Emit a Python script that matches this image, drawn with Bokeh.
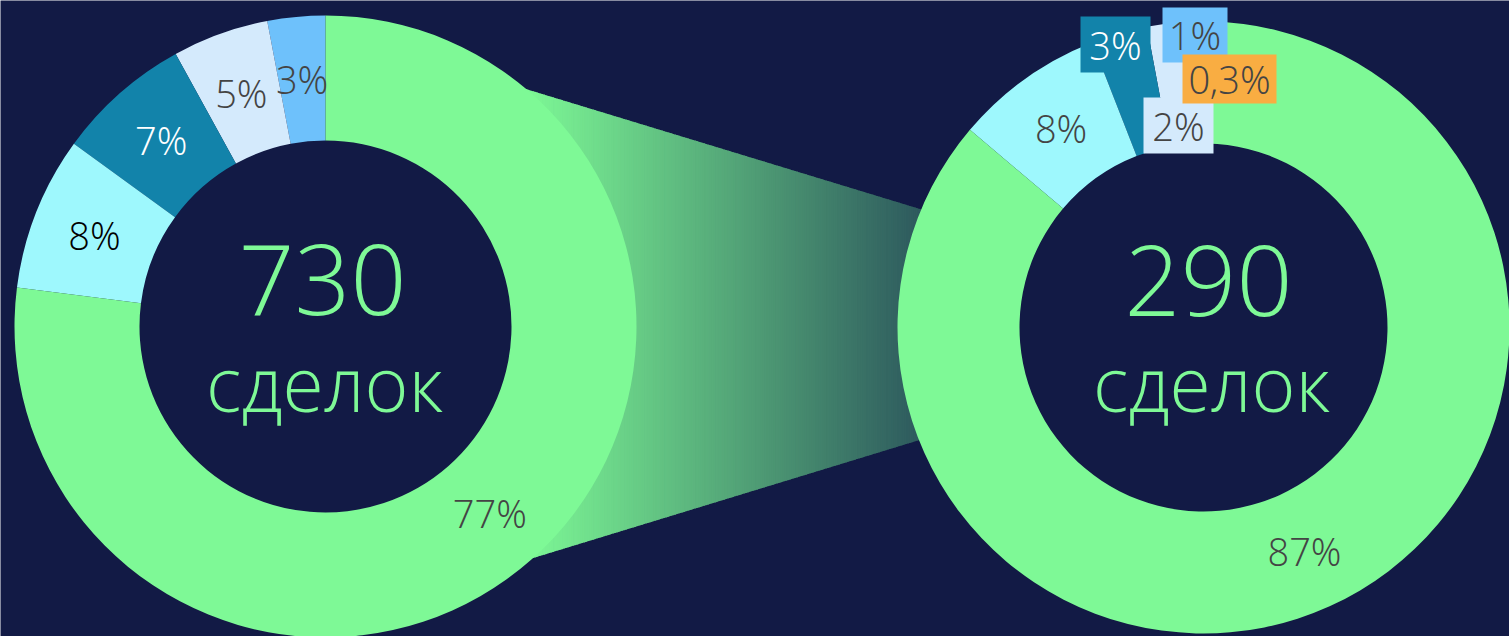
import numpy as np
from bokeh.plotting import figure
from bokeh.models import Range1d
from bokeh.core.properties import value
from bokeh.embed import file_html
from bokeh.resources import INLINE

# ---------------- data ----------------
left_total = "730"
right_total = "290"
unit_text = "сделок"

left_shares = [3, 5, 7, 8, 77]
left_labels = ["3%", "5%", "7%", "8%", "77%"]

right_shares = [1, 2, 3, 8, 87, 0.3]
right_labels = ["1%", "2%", "3%", "8%", "87%", "0,3%"]

# ---------------- styles ----------------
BG = "#121a45"
GREEN = "#7ef996"
left_colors = ["#6ec1fb", "#d4eafc", "#1283aa", "#9ef8fd", GREEN]
left_text_colors = ["#444444", "#444444", "#ffffff", "#000000", "#444444"]
right_colors = ["#6ec1fb", "#d4eafc", "#1283aa", "#9ef8fd", GREEN, "#f9ad42"]
right_text_colors = ["#444444", "#444444", "#ffffff", "#444444", "#444444", "#444444"]
FONT = value("Open Sans Light, Open Sans")

# ---------------- layout ----------------
W, H = 1509, 636
LCX, LCY, L_OUT, L_IN = 325, 310, 311, 186
RCX, RCY, R_OUT, R_IN = 1203, 309, 306, 184
LABEL_SIZE = 38

# right-donut callout boxes: (slice index, cx, cy, w, h) in drawing order
callouts = [
    (2, 1115, 592, 70, 56),
    (0, 1194.5, 601.5, 65, 55),
    (1, 1178, 511, 70, 56),
    (5, 1229, 557.5, 94, 49),
]

p = figure(width=W, height=H, x_range=Range1d(0, W), y_range=Range1d(0, H),
           output_backend="svg", toolbar_location=None, min_border=0,
           background_fill_color=BG, border_fill_color=BG, outline_line_color=None)
p.axis.visible = False
p.grid.visible = False


def angles(shares):
    cum = np.concatenate([[0.0], np.cumsum(shares)]) / float(sum(shares))
    start = np.pi / 2 + 2 * np.pi * cum[:-1]
    end = np.pi / 2 + 2 * np.pi * cum[1:]
    return start, end


# ---------------- gradient connector ----------------
def on_circle(cx, cy, r, deg):
    a = np.deg2rad(deg)
    return cx + r * np.cos(a), cy + r * np.sin(a)

lt = on_circle(LCX, LCY, L_OUT, 49.7)
lb = on_circle(LCX, LCY, L_OUT, -48.1)
rt = on_circle(RCX, RCY, R_OUT, 157.3)
rb = on_circle(RCX, RCY, R_OUT, 201.6)

def line_y(p0, p1, x):
    return p0[1] + (p1[1] - p0[1]) * (x - p0[0]) / (p1[0] - p0[0])

c0 = np.array([126, 249, 150])
c1 = np.array([46, 90, 94])
edges = np.linspace(LCX + 193, RCX - 250, 240)
xs, ys, cols = [], [], []
for a, b in zip(edges[:-1], edges[1:]):
    b2 = b + 0.8
    xs.append([a, b2, b2, a])
    ys.append([line_y(lb, rb, a), line_y(lb, rb, b2), line_y(lt, rt, b2), line_y(lt, rt, a)])
    t = np.clip(((a + b) / 2 - lt[0]) / (rt[0] - lt[0]), 0, 1)
    c = (c0 + (c1 - c0) * t).astype(int)
    cols.append("#%02x%02x%02x" % tuple(c))
p.patches(xs=xs, ys=ys, fill_color=cols, line_color=None)

# ---------------- donuts ----------------
ls, le = angles(left_shares)
p.annular_wedge(x=LCX, y=LCY, inner_radius=L_IN, outer_radius=L_OUT,
                start_angle=ls, end_angle=le, direction="anticlock",
                fill_color=left_colors, line_color=None)
rs, re_ = angles(right_shares)
p.annular_wedge(x=RCX, y=RCY, inner_radius=R_IN, outer_radius=R_OUT,
                start_angle=rs, end_angle=re_, direction="anticlock",
                fill_color=right_colors, line_color=None)

TXT = dict(text_font=FONT, text_align="center", text_baseline="middle")

# ring labels
lmid = (ls + le) / 2
lr = (L_IN + L_OUT) / 2
p.text(x=list(LCX + lr * np.cos(lmid)), y=list(LCY + lr * np.sin(lmid)),
       text=left_labels, text_color=left_text_colors,
       text_font_size=f"{LABEL_SIZE}px", **TXT)

called = [c[0] for c in callouts]
ring_idx = [i for i in range(len(right_labels)) if i not in called]
rmid = (rs + re_) / 2
rr = (R_IN + R_OUT) / 2
p.text(x=[RCX + rr * np.cos(rmid[i]) for i in ring_idx],
       y=[RCY + rr * np.sin(rmid[i]) for i in ring_idx],
       text=[right_labels[i] for i in ring_idx],
       text_color=[right_text_colors[i] for i in ring_idx],
       text_font_size=f"{LABEL_SIZE}px", **TXT)

# callout boxes
for idx, cx, cy, w, h in callouts:
    p.rect(x=[cx], y=[cy], width=[w], height=[h], fill_color=right_colors[idx], line_color=None)
    p.text(x=[cx], y=[cy], text=[right_labels[idx]], text_color=right_text_colors[idx],
           text_font_size=f"{LABEL_SIZE}px", **TXT)

# centre texts
p.text(x=[LCX - 3, RCX + 5], y=[LCY + 47, RCY + 47], text=[left_total, right_total],
       text_color=GREEN, text_font_size="98px", **TXT)
p.text(x=[LCX - 1, RCX + 8], y=[LCY - 56, RCY - 55], text=[unit_text, unit_text],
       text_color=GREEN, text_font_size="75px", **TXT)

open("out.html", "w").write(file_html(p, INLINE))
